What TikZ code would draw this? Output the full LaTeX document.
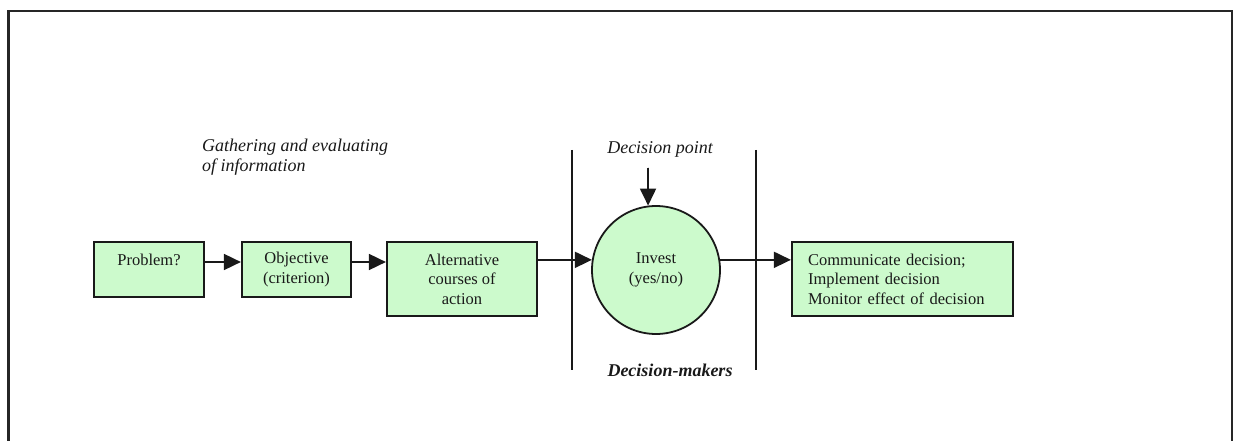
\documentclass[tikz,border=0pt]{standalone}
\usepackage{fontspec}
\setmainfont{Liberation Serif}
\usetikzlibrary{arrows.meta}
\definecolor{boxgreen}{RGB}{204,250,204}
\definecolor{ink}{RGB}{25,25,25}
\tikzset{
  box/.style={draw=ink, line width=2.2pt, fill=boxgreen, rectangle, inner sep=0pt,
              align=center, text=ink, font={\fontsize{16.5}{19.5}\selectfont}},
  decircle/.style={draw=ink, line width=1.8pt, fill=boxgreen, circle, inner sep=0pt,
              minimum size=128pt, align=center, text=ink, font={\fontsize{16.5}{19.5}\selectfont}},
  arr/.style={draw=ink, line width=1.8pt, -{Triangle[length=17pt,width=16pt]}},
  sep/.style={draw=ink, line width=1.8pt},
  itlabel/.style={inner sep=0pt, text=ink, font={\fontsize{18}{20}\selectfont\itshape}},
  frameline/.style={draw=black!85, line width=2.6pt}
}
\begin{document}
\begin{tikzpicture}[x=1pt,y=-1pt]
\useasboundingbox (0,0) rectangle (1235,441);
% frame
\coordinate (fbl) at (8.5,445);
\coordinate (ftl) at (8.5,11);
\coordinate (ftr) at (1232,11);
\coordinate (fbr) at (1232,445);
\draw[frameline] (fbl) -- (ftl) -- (ftr) -- (fbr);

% boxes
\node[box, minimum width=110pt, minimum height=55pt] (prob) at (149,269.5) {Problem?\\\mbox{}};
\node[box, minimum width=109pt, minimum height=55pt] (obj) at (296.5,269.5) {Objective\\(criterion)};
\node[box, minimum width=150pt, minimum height=74pt] (alt) at (462,279) {Alternative\\courses of\\action};
\node[decircle] (dec) at (656,270) {Invest\\(yes/no)};
\node[box, minimum width=221pt, minimum height=74pt, align=left, text width=189pt, inner xsep=16pt] (comm) at (902.5,279)
  {Communicate decision;\\Implement decision\\Monitor effect of decision};

% labels
\node[itlabel, anchor=north west, align=left] (gath) at (202,139) {Gathering and evaluating\\of information};
\node[itlabel] (dpl) at (660,149) {Decision point};
\node[inner sep=0pt, text=ink, font={\fontsize{18}{20}\selectfont\bfseries\itshape}] (dm) at (670,370) {Decision-makers};

% separators
\coordinate (v1t) at (572,150);
\coordinate (v1b) at (572,370);
\coordinate (v2t) at (756,150);
\coordinate (v2b) at (756,370);
\draw[sep] (v1t) -- (v1b);
\draw[sep] (v2t) -- (v2b);

% connectors
\coordinate (a1) at ([yshift=7.5pt]prob.east);
\draw[arr] (a1) -- (a1 -| obj.west);
\coordinate (a2) at ([yshift=7.5pt]obj.east);
\draw[arr] (a2) -- (a2 -| alt.west);
\draw[arr] (dec.171 -| alt.east) -- (dec.171);
\draw[arr] (dec.9) -- (dec.9 -| comm.west);
\coordinate (dpt) at (648,168);
\draw[arr] (dpt) -- (dec.97);
\end{tikzpicture}
\end{document}
